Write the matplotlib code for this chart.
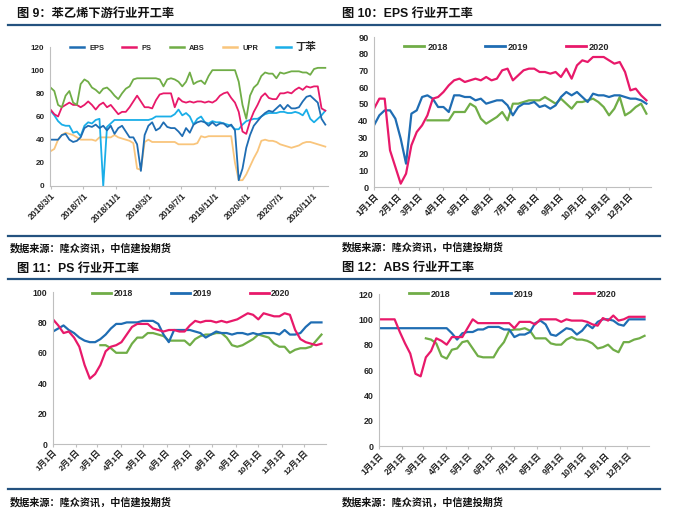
import numpy as np
import matplotlib
matplotlib.use('Agg')
import matplotlib.pyplot as plt
from matplotlib.lines import Line2D
from datetime import date, timedelta

plt.rcParams['font.family'] = ['Liberation Sans', 'Noto Sans CJK SC', 'DejaVu Sans']
plt.rcParams['font.weight'] = 'bold'
plt.rcParams['axes.unicode_minus'] = False

# ---- 图9 : biweekly from 2018/3/1 ----
start9 = date(2018, 3, 1)
eps_all = [40, 40, 40, 44, 45, 40, 38, 39, 42, 50, 52, 51, 53, 50, 52, 48, 52, 45, 50, 52,
           47, 42, 42, 36, 13, 44, 52, 55, 48, 50, 55, 51, 50, 50, 47, 43, 50, 46, 53, 55,
           56, 55, 52, 55, 52, 54, 54, 51, 53, 48, 5, 15, 33, 44, 52, 56, 60, 63, 65, 64,
           67, 70, 66, 70, 67, 67, 68, 73, 77, 78, 75, 72, 58, 53]
ps_all = [66, 62, 60, 68, 70, 72, 70, 70, 68, 70, 73, 70, 66, 70, 72, 68, 70, 66, 62, 64,
          64, 68, 73, 78, 73, 68, 68, 67, 74, 79, 80, 80, 80, 68, 76, 73, 72, 73, 72, 73,
          73, 72, 73, 72, 74, 78, 80, 81, 76, 72, 64, 47, 45, 56, 64, 70, 77, 80, 76, 75,
          75, 80, 80, 81, 80, 83, 85, 83, 86, 85, 86, 86, 67, 65]
abs_all = [85, 82, 70, 68, 78, 82, 72, 70, 88, 92, 90, 85, 83, 80, 84, 85, 82, 78, 75, 80,
           84, 86, 92, 93, 93, 93, 93, 93, 93, 92, 86, 92, 93, 92, 90, 86, 90, 98, 88, 90,
           91, 88, 95, 100, 100, 100, 100, 100, 100, 100, 90, 70, 58, 78, 85, 88, 95, 98, 97, 97,
           93, 98, 97, 98, 99, 99, 99, 98, 98, 96, 101, 102, 102, 102]
upr_all = [30, 32, 40, 44, 46, 45, 44, 42, 40, 40, 40, 40, 39, 42, 42, 42, 42, 44, 42, 41,
           40, 39, 37, 15, 14, 38, 40, 38, 38, 38, 38, 38, 38, 38, 36, 36, 36, 36, 36, 37,
           43, 42, 43, 43, 43, 43, 43, 43, 43, 20, 5, 5, 10, 17, 24, 30, 39, 40, 39, 39,
           38, 36, 35, 34, 33, 34, 35, 37, 38, 38, 37, 36, 35, 34]
sbr_all = [65, 61, 56, 53, 52, 52, 46, 47, 43, 52, 55, 54, 57, 58, 0, 51, 54, 57, 57, 57,
           57, 57, 57, 57, 57, 57, 57, 58, 60, 60, 60, 60, 60, 62, 66, 61, 63, 60, 53, 58,
           60, 55, 54, 56, 55, 55, 54, 53, 52, 49, 49, 53, 56, 57, 58, 58, 60, 62, 63, 63,
           63, 64, 64, 63, 63, 64, 63, 61, 66, 58, 55, 58, 61, 65]
names9 = ['EPS', 'PS', 'ABS', 'UPR', '丁苯']
ticks9 = [date(2018, 3, 1), date(2018, 7, 1), date(2018, 11, 1), date(2019, 3, 1), date(2019, 7, 1),
          date(2019, 11, 1), date(2020, 3, 1), date(2020, 7, 1), date(2020, 11, 1)]
ticklabels9 = ['2018/3/1', '2018/7/1', '2018/11/1', '2019/3/1', '2019/7/1',
               '2019/11/1', '2020/3/1', '2020/7/1', '2020/11/1']

# ---- 图10-12 : weekly, by week of year ----
nan = np.nan
eps_2018 = [nan] * 10 + [40, 40, 40, 40, 40, 45, 45, 45, 50, 48, 41, 38, 40, 42, 45, 40, 50, 50, 51, 52,
                         52, 52, 54, 52, 50, 53, 50, 47, 51, 51, 52, 53, 51, 48, 43, 47, 54, 43, 45, 48,
                         50, 44]
eps_2019 = [37, 43, 46, 46, 41, 29, 14, 44, 46, 54, 55, 53, 48, 48, 45, 55, 55, 54, 54, 52,
            53, 50, 51, 52, 52, 49, 43, 48, 50, 50, 51, 48, 49, 47, 49, 54, 57, 55, 57, 54,
            51, 56, 55, 55, 54, 55, 55, 54, 53, 53, 52, 50]
eps_2020 = [47, 53, 53, 22, 12, 2, 8, 25, 33, 37, 43, 53, 54, 57, 61, 64, 65, 63, 64, 65,
            64, 66, 64, 65, 70, 71, 64, 67, 70, 71, 71, 69, 69, 68, 69, 66, 71, 65, 73, 76,
            75, 78, 78, 78, 76, 74, 75, 69, 58, 59, 55, 52]

ps_2018 = [nan] * 9 + [65, 65, 63, 60, 60, 60, 66, 70, 70, 73, 73, 72, 71, 68, 68, 68, 68, 65, 69, 71,
                       72, 72, 73, 73, 70, 65, 64, 65, 67, 69, 72, 71, 70, 66, 64, 64, 60, 62, 63, 63,
                       64, 68, 72]
ps_2019 = [74, 76, 78, 75, 73, 70, 68, 67, 67, 69, 72, 76, 79, 79, 80, 80, 80, 81, 81, 81,
           79, 72, 67, 75, 75, 75, 75, 74, 73, 70, 72, 74, 73, 73, 72, 73, 73, 72, 73, 72,
           73, 73, 73, 72, 75, 72, 72, 73, 77, 80, 80, 80]
ps_2020 = [82, 78, 73, 74, 70, 64, 52, 43, 46, 52, 61, 64, 65, 67, 72, 77, 79, 79, 79, 76,
           75, 74, 75, 75, 74, 74, 78, 81, 80, 81, 81, 80, 81, 80, 81, 82, 84, 86, 85, 82,
           86, 85, 84, 84, 86, 85, 75, 69, 67, 66, 65, 66]

abs_2018 = [nan] * 9 + [85, 84, 81, 71, 69, 76, 77, 82, 83, 77, 71, 70, 70, 70, 77, 82, 91, 92, 92, 93,
                        91, 85, 85, 85, 81, 80, 80, 84, 86, 84, 84, 83, 81, 77, 78, 80, 76, 74, 82, 82,
                        84, 85, 87]
abs_2019 = [93, 93, 93, 93, 93, 93, 93, 93, 93, 93, 93, 93, 93, 93, 89, 84, 89, 90, 90, 92,
            92, 94, 94, 94, 92, 92, 86, 88, 88, 90, 97, 99, 96, 88, 87, 90, 93, 92, 88, 91,
            96, 93, 98, 100, 100, 99, 96, 95, 100, 100, 100, 100]
abs_2020 = [100, 100, 100, 100, 90, 81, 73, 57, 55, 70, 75, 85, 83, 80, 86, 86, 86, 93, 100, 97,
            97, 97, 97, 97, 97, 97, 93, 98, 98, 98, 96, 100, 100, 100, 100, 98, 100, 99, 99, 99,
            98, 96, 95, 101, 99, 103, 99, 100, 102, 102, 102, 102]

years = ['2018', '2019', '2020']
month_labels = [f'{m}月1日' for m in range(1, 13)]

C_GREEN = '#70ad47'
C_BLUE = '#1f6db3'
C_PINK = '#e8196a'
C_ORANGE = '#f9c57c'
C_CYAN = '#1aaee8'
C_RULE = '#24527f'
C_TXT = '#262626'

W, H = 673, 511
fig = plt.figure(figsize=(W / 100, H / 100), dpi=100)


def px_axes(l, t, r, b):
    return fig.add_axes([l / W, 1 - b / H, (r - l) / W, (b - t) / H])


def style_axes(ax, fs, xfs):
    for s in ['top', 'right']:
        ax.spines[s].set_visible(False)
    for s in ['left', 'bottom']:
        ax.spines[s].set_color('#bfbfbf')
        ax.spines[s].set_linewidth(0.8)
    ax.tick_params(axis='y', length=0, labelsize=fs, labelcolor=C_TXT, pad=4)
    ax.tick_params(axis='x', length=2.5, color='#bfbfbf', labelsize=xfs, labelcolor=C_TXT, pad=1)


def rotate_labels(ax):
    for lab in ax.get_xticklabels():
        lab.set_rotation(45)
        lab.set_ha('right')
        lab.set_rotation_mode('anchor')


# header/footer rules and texts
for y in [25, 236, 279, 489]:
    fig.add_artist(Line2D([8 / W, 660 / W], [1 - y / H] * 2, color=C_RULE, lw=1.6))

titles = [(17, 14, '图 9：苯乙烯下游行业开工率'), (342, 14, '图 10：EPS 行业开工率'),
          (17, 269, '图 11：PS 行业开工率'), (342, 268, '图 12：ABS 行业开工率')]
for x, y, t in titles:
    fig.text(x / W, 1 - y / H, t, fontsize=8.8, fontweight='bold', va='center', ha='left', color='#111111')

for x, y in [(10, 248), (342, 247), (10, 502), (342, 502)]:
    fig.text(x / W, 1 - y / H, '数据来源：隆众资讯，中信建投期货', fontsize=7.3, fontweight='bold',
             va='center', ha='left', color='#111111')

# ---------- 图9 ----------
ax9 = px_axes(50, 47, 328, 186)
dates9 = [start9 + timedelta(days=14 * i) for i in range(len(eps_all))]
series9 = [eps_all, ps_all, abs_all, upr_all, sbr_all]
colors9 = [C_BLUE, C_PINK, C_GREEN, C_ORANGE, C_CYAN]
order = [3, 4, 0, 1, 2]
lines9 = {}
for i in order:
    lines9[i], = ax9.plot(dates9, series9[i], color=colors9[i], lw=1.3, label=names9[i])
ax9.set_ylim(0, 120)
ax9.set_yticks(range(0, 121, 20))
ax9.set_xlim(date(2018, 2, 27), date(2020, 12, 27))
ax9.set_xticks(ticks9)
ax9.set_xticklabels(ticklabels9)
style_axes(ax9, 5.8, 6.2)
rotate_labels(ax9)
leg = ax9.legend([lines9[i] for i in range(5)], names9, loc='center', bbox_to_anchor=(0.515, 1.0),
                 ncol=5, frameon=False, fontsize=5.4, handlelength=1.9, handletextpad=0.7,
                 columnspacing=2.4, borderaxespad=0)
for t in leg.get_texts():
    t.set_color(C_TXT)
leg.get_texts()[4].set_fontsize(7.5)
for h in leg.get_lines():
    h.set_linewidth(1.8)

# ---------- 图10-12 ----------
weeks = [7 * k for k in range(52)]
month_pos = [(date(2019, m, 1) - date(2019, 1, 1)).days for m in range(1, 13)]
year_colors = [C_GREEN, C_BLUE, C_PINK]

panels = [
    (px_axes(374, 37, 651, 187), [eps_2018, eps_2019, eps_2020], 90, 10, 6.6,
     (0.48, 0.933), 4.1),
    (px_axes(53, 292, 326, 444), [ps_2018, ps_2019, ps_2020], 100, 20, 6.2,
     (0.507, 0.987), 4.4),
    (px_axes(379, 294, 649, 446), [abs_2018, abs_2019, abs_2020], 120, 20, 6.4,
     (0.494, 1.0), 4.6),
]
for ax, data, ymax, ystep, fs, anchor, colsp in panels:
    for vals, c, yr in zip(data, year_colors, years):
        ax.plot(weeks[:len(vals)], vals, color=c, lw=1.6, label=yr)
    ax.set_ylim(0, ymax)
    ax.set_yticks(range(0, ymax + 1, ystep))
    ax.set_xlim(0, 363)
    ax.set_xticks(month_pos)
    ax.set_xticklabels(month_labels)
    style_axes(ax, fs, fs - 0.2)
    rotate_labels(ax)
    lg = ax.legend(loc='center', bbox_to_anchor=anchor, ncol=3, frameon=False, fontsize=fs,
                   handlelength=2.2, handletextpad=0.3, columnspacing=colsp, borderaxespad=0)
    for t in lg.get_texts():
        t.set_color(C_TXT)
    for h in lg.get_lines():
        h.set_linewidth(2.0)

fig.savefig('out.png', dpi=100)
